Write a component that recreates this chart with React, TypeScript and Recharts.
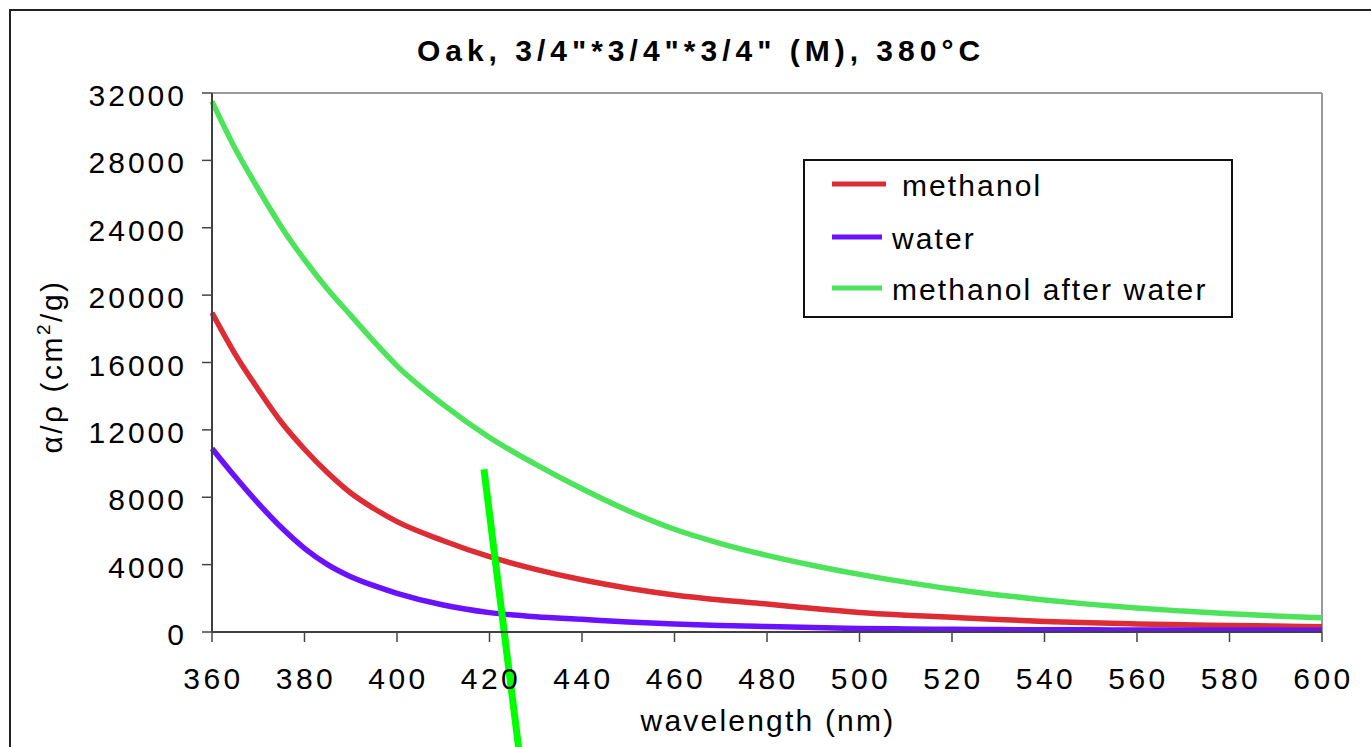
import React from 'react';
import { LineChart, Line, XAxis, YAxis, ReferenceLine, Legend } from 'recharts';

const wavelengths = [360, 365, 370, 375, 380, 385, 390, 395, 400, 410, 420, 430, 440, 450, 460, 470, 480, 490, 500, 510, 520, 530, 540, 550, 560, 570, 580, 590, 600];
const methanol = [18950, 16500, 14400, 12450, 10850, 9450, 8250, 7330, 6550, 5420, 4470, 3720, 3100, 2600, 2200, 1900, 1660, 1390, 1160, 1000, 870, 740, 630, 545, 480, 430, 390, 350, 315];
const water = [10900, 9220, 7640, 6200, 4970, 4000, 3285, 2750, 2300, 1600, 1150, 900, 750, 600, 480, 390, 320, 260, 215, 180, 160, 145, 135, 128, 122, 118, 115, 112, 110];
const methanolAfterWater = [31500, 28700, 26300, 24050, 22100, 20350, 18800, 17250, 15800, 13500, 11550, 9950, 8500, 7200, 6100, 5250, 4550, 3950, 3420, 2960, 2550, 2200, 1900, 1640, 1420, 1240, 1080, 950, 840];

const xTicks = [360, 380, 400, 420, 440, 460, 480, 500, 520, 540, 560, 580, 600];
const yTicks = [0, 4000, 8000, 12000, 16000, 20000, 24000, 28000, 32000];

const seriesKeys = ['methanol', 'water', 'afterWater'];
const seriesNames = [' methanol', 'water', 'methanol after water'];
const seriesColors = ['#DD2C34', '#6A12FF', '#4DE35A'];

// stray hand-drawn green stroke over the chart (data coordinates)
const strayMark = [
  { x: 418.8, y: 9660 },
  { x: 426.35, y: -7000 },
];

const data = wavelengths.map((w, i) => ({
  wl: w,
  methanol: methanol[i],
  water: water[i],
  afterWater: methanolAfterWater[i],
}));

const FONT = '"Liberation Sans", Arial, sans-serif';

const YTick = (props: any) => {
  const { x, y, payload } = props;
  return (
    <text x={x} y={y + 13} textAnchor="end" fontFamily={FONT} fontSize={30} letterSpacing={3} fill="#000">
      {payload.value}
    </text>
  );
};

const XTick = (props: any) => {
  const { x, y, payload } = props;
  return (
    <text x={x + 1.5} y={y + 21} textAnchor="middle" fontFamily={FONT} fontSize={30} letterSpacing={3.5} fill="#000">
      {payload.value}
    </text>
  );
};

const renderLegend = () => {
  const rows = [
    { x1: 29, x2: 83, y: 25, tx: 99 },
    { x1: 29, x2: 79, y: 78, tx: 89 },
    { x1: 29, x2: 79, y: 129, tx: 89 },
  ];
  return (
    <svg width={430} height={160} style={{ display: 'block' }}>
      <rect x={1} y={1} width={428} height={157} fill="#fff" stroke="#111" strokeWidth={2} />
      {rows.map((r, i) => (
        <g key={i}>
          <line x1={r.x1} x2={r.x2} y1={r.y} y2={r.y} stroke={seriesColors[i]} strokeWidth={5} />
          <text x={r.tx} y={r.y + 12} fontFamily={FONT} fontSize={30} letterSpacing={2.1} fill="#000">
            {seriesNames[i].trim()}
          </text>
        </g>
      ))}
    </svg>
  );
};

export default function App() {
  return (
    <div style={{ position: 'absolute', left: 0, top: 0, width: 1371, height: 747, overflow: 'hidden', background: '#fff' }}>
      <div style={{ position: 'absolute', left: 9, top: 9, width: 1500, height: 900, border: '2px solid #222' }} />
      <div
        style={{
          position: 'absolute',
          left: 0,
          top: 62,
          width: 1402,
          textAlign: 'center',
          fontFamily: FONT,
          fontWeight: 'bold',
          fontSize: 30,
          letterSpacing: 5,
          lineHeight: 0,
          color: '#000',
        }}
      >
        <span style={{ position: 'relative', top: -11 }}>Oak, 3/4"*3/4"*3/4" (M), 380°C</span>
      </div>
      <div style={{ position: 'absolute', left: 0, top: 0 }}>
        <LineChart width={1371} height={747} data={data} margin={{ top: 93, right: 49, bottom: 0, left: 0 }}>
          <XAxis
            dataKey="wl"
            type="number"
            domain={[360, 600]}
            ticks={xTicks}
            tickSize={10}
            tickMargin={26}
            height={115}
            axisLine={{ stroke: '#404040', strokeWidth: 2 }}
            tickLine={{ stroke: '#444', strokeWidth: 1.5 }}
            tick={<XTick />}
            interval={0}
            label={{
              content: (p: any) => {
                const vb = p.viewBox;
                return (
                  <text x={vb.x + vb.width / 2 + 1} y={731} textAnchor="middle" fontFamily={FONT} fontSize={30} letterSpacing={2.2} fill="#000">
                    wavelength (nm)
                  </text>
                );
              },
            }}
          />
          <YAxis
            type="number"
            domain={[0, 32000]}
            ticks={yTicks}
            width={212}
            tickSize={10}
            tickMargin={15}
            axisLine={{ stroke: '#404040', strokeWidth: 2 }}
            tickLine={{ stroke: '#444', strokeWidth: 1.5 }}
            tick={<YTick />}
            interval={0}
            label={{
              content: (p: any) => {
                const vb = p.viewBox;
                const cx = 62;
                const cy = vb.y + vb.height / 2 + 4;
                return (
                  <text
                    x={cx}
                    y={cy}
                    transform={`rotate(-90, ${cx}, ${cy})`}
                    textAnchor="middle"
                    fontFamily={FONT}
                    fontSize={30}
                    letterSpacing={2.5}
                    fill="#000"
                  >
                    <tspan>α/ρ  (cm</tspan>
                    <tspan fontSize={19} dy={-12}>2</tspan>
                    <tspan dy={12}>/g)</tspan>
                  </text>
                );
              },
            }}
          />
          <ReferenceLine y={32000} stroke="#9a9a9a" strokeWidth={2} />
          <ReferenceLine x={600} stroke="#9a9a9a" strokeWidth={2} />
          {seriesKeys.map((k, i) => (
            <Line
              key={k}
              type="monotone"
              dataKey={k}
              name={seriesNames[i]}
              stroke={seriesColors[i]}
              strokeWidth={5.5}
              dot={false}
              activeDot={false}
              isAnimationActive={false}
            />
          ))}
          <ReferenceLine segment={strayMark} stroke="#00FF00" strokeWidth={7} ifOverflow="visible" />
          <Legend
            layout="vertical"
            align="center"
            verticalAlign="middle"
            content={renderLegend}
            wrapperStyle={{ left: 803, top: 159, width: 430, height: 160 }}
          />
        </LineChart>
      </div>
    </div>
  );
}
